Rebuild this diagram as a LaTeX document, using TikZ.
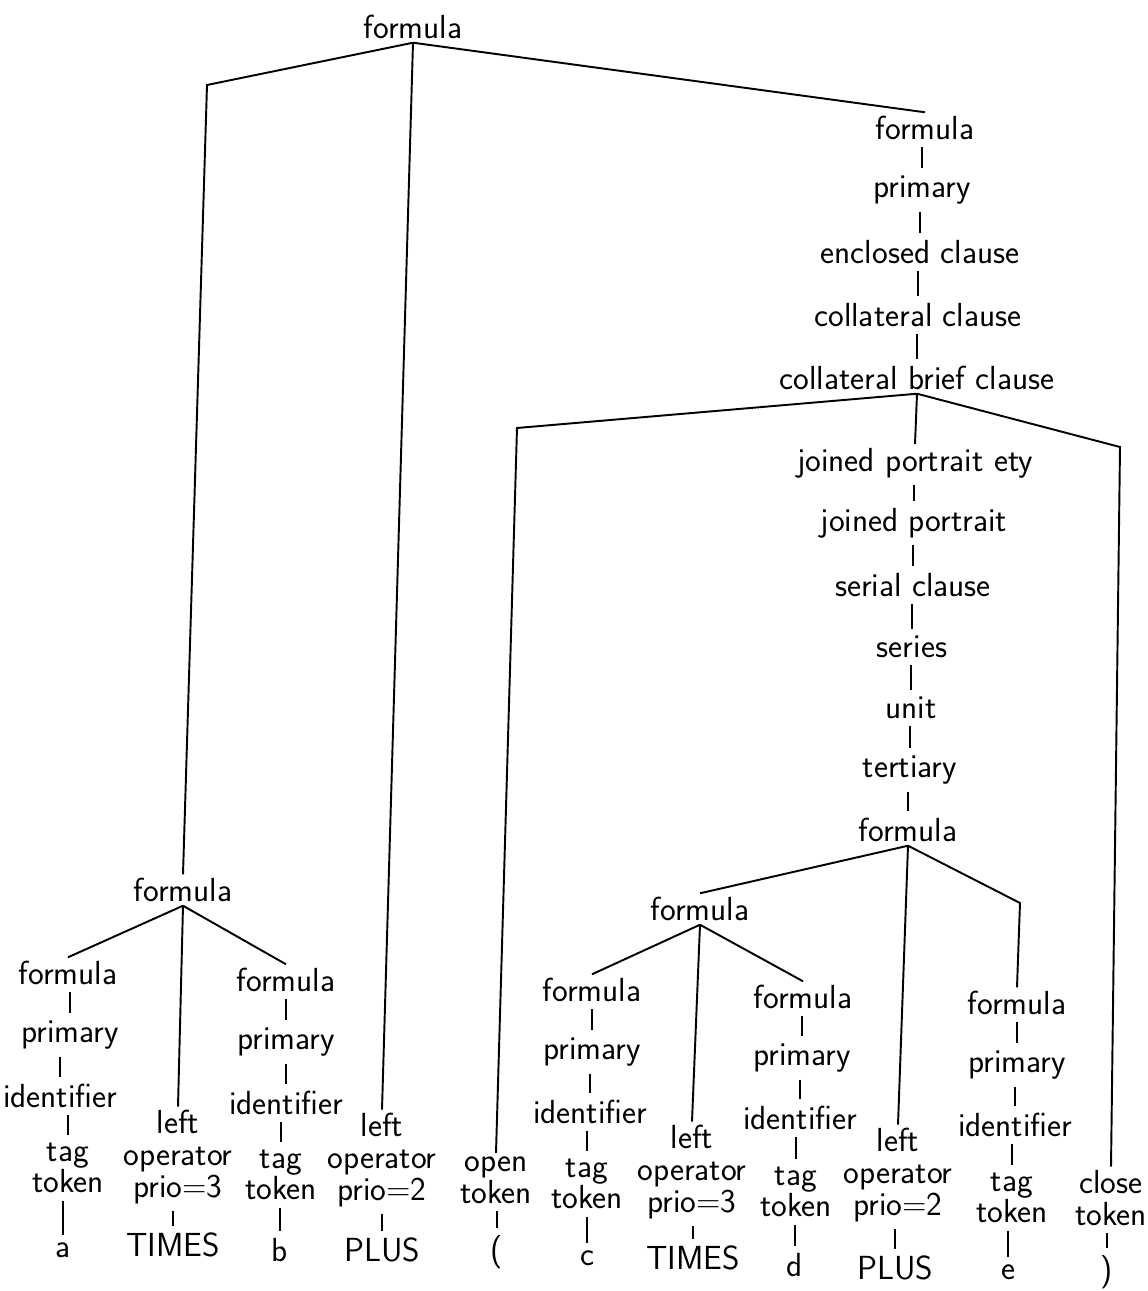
\documentclass[tikz,border=0pt]{standalone}
\usepackage{tikz}

\begin{document}
\begin{tikzpicture}[x=0.02cm,y=-0.02cm,font=\fontsize{19}{18}\selectfont\sffamily,
  every node/.style={inner sep=2pt,align=center},
  edge/.style={line width=1.1pt},
  tick/.style={line width=0.9pt,shorten <=2pt,shorten >=2pt}]
  \useasboundingbox (0,0) rectangle (1147,1291);
  % root and its right branch
  \node (f0) at (413,27) {formula};
  \coordinate (k1) at (207,85);
  \node (rf) at (925,128) {formula};
  \node (rp) at (922,190) {primary};
  \node (rec) at (920,252) {enclosed clause};
  \node (rcc) at (918,315) {collateral clause};
  \node (rcb) at (917,378) {collateral brief clause};
  \coordinate (k3) at (517,428);
  \coordinate (k4) at (1120,447);
  \node (jpe) at (915,463) {joined portrait ety};
  \node (jp) at (914,523) {joined portrait};
  \node (sc) at (913,585) {serial clause};
  \node (se) at (912,647) {series};
  \node (un) at (911,708) {unit};
  \node (te) at (910,770) {tertiary};
  \node (tf) at (908,830) {formula};
  \coordinate (k5) at (1020,903);
  % left subtree: a TIMES b
  \node (lf) at (183,890) {formula};
  \node (a1) at (68,973) {formula};
  \node (a2) at (70,1035) {primary};
  \node (a3) at (60,1096) {identifier};
  \node (a4) at (68,1168) {tag\\token};
  \node (a5) at (63,1250) {a};
  \node (op1) at (178,1157) {left\\operator\\prio=3};
  \node (op1v) at (173,1245) {TIMES};
  \node (b1) at (286,980) {formula};
  \node (b2) at (286,1042) {primary};
  \node (b3) at (286,1103) {identifier};
  \node (b4) at (281,1175) {tag\\token};
  \node (b5) at (280,1250) {b};
  \node (op2) at (382,1160) {left\\operator\\prio=2};
  \node (op2v) at (382,1250) {PLUS};
  % enclosed part: ( c TIMES d PLUS e )
  \node (opn) at (496,1180) {open\\token};
  \node (opnv) at (497,1252) {(};
  \node (mf) at (700,909) {formula};
  \node (c1) at (592,990) {formula};
  \node (c2) at (592,1052) {primary};
  \node (c3) at (590,1112) {identifier};
  \node (c4) at (587,1184) {tag\\token};
  \node (c5) at (587,1258) {c};
  \node (op3) at (692,1172) {left\\operator\\prio=3};
  \node (op3v) at (693,1258) {TIMES};
  \node (d1) at (803,997) {formula};
  \node (d2) at (802,1058) {primary};
  \node (d3) at (800,1118) {identifier};
  \node (d4) at (796,1192) {tag\\token};
  \node (d5) at (795,1265) {d};
  \node (op4) at (898,1175) {left\\operator\\prio=2};
  \node (op4v) at (895,1268) {PLUS};
  \node (e1) at (1017,1003) {formula};
  \node (e2) at (1017,1065) {primary};
  \node (e3) at (1015,1125) {identifier};
  \node (e4) at (1012,1198) {tag\\token};
  \node (e5) at (1008,1272) {e};
  \node (cls) at (1111,1198) {close\\token};
  \node (clsv) at (1107,1272) {)};
  % branching edges
  \draw[edge] (f0.south) -- (k1) -- (lf.north);
  \draw[edge] (f0.south) -- (op2.north);
  \draw[edge] (f0.south) -- (rf.north);
  \draw[edge] (rcb.south) -- (k3) -- (opn.north);
  \draw[edge] (rcb.south) -- (jpe.north);
  \draw[edge] (rcb.south) -- (k4) -- (cls.north);
  \draw[edge] (tf.south) -- (mf.north);
  \draw[edge] (tf.south) -- (op4.north);
  \draw[edge] (tf.south) -- (k5) -- (e1.north);
  \foreach \p/\c in {lf/a1,lf/op1,lf/b1,mf/c1,mf/op3,mf/d1}{
    \draw[edge] (\p.south) -- (\c.north);}
  % single ticks
  \foreach \p/\c in {rf/rp,rp/rec,rec/rcc,rcc/rcb,jpe/jp,jp/sc,sc/se,se/un,un/te,te/tf,
    a1/a2,a2/a3,a3/a4,a4/a5,op1/op1v,b1/b2,b2/b3,b3/b4,b4/b5,op2/op2v,opn/opnv,
    c1/c2,c2/c3,c3/c4,c4/c5,op3/op3v,d1/d2,d2/d3,d3/d4,d4/d5,op4/op4v,
    e1/e2,e2/e3,e3/e4,e4/e5,cls/clsv}{
    \draw[tick] (\c.north |- \p.south) -- (\c.north);}
\end{tikzpicture}
\end{document}
